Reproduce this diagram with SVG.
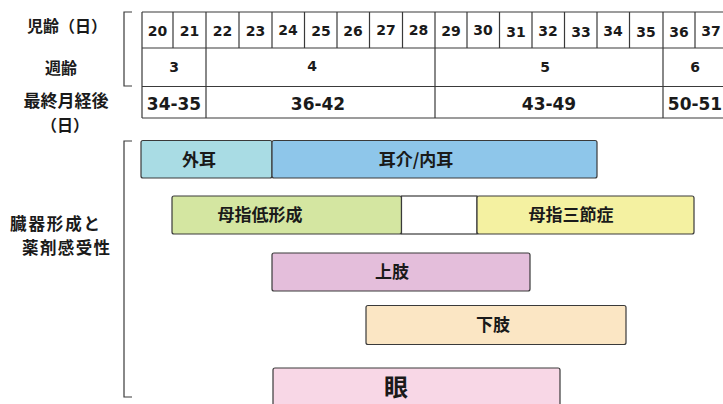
<svg xmlns="http://www.w3.org/2000/svg" width="723" height="404" viewBox="0 0 723 404">
<style>
.ln{stroke:#3a3a3a;stroke-width:1.2;fill:none}
.jp{font-family:"Noto Sans CJK JP","Noto Sans",sans-serif;font-weight:bold;fill:#1a1a1a}
.num{font-family:"DejaVu Sans",Verdana,sans-serif;fill:#1a1a1a;text-anchor:middle}
.bar{stroke:#3a3a3a;stroke-width:1.2}
</style>
<rect width="723" height="404" fill="#fff"/>
<g id="row-labels">
<text class="jp" x="67" y="32" font-size="16" text-anchor="middle">児齢（日）</text>
<text class="jp" x="61" y="74" font-size="16" text-anchor="middle">週齢</text>
<text class="jp" x="66" y="107" font-size="17" text-anchor="middle">最終月経後</text>
<text class="jp" x="65" y="131" font-size="16" text-anchor="middle">（日）</text>
<text class="jp" x="10" y="230" font-size="16.5" textLength="90">臓器形成と</text>
<text class="jp" x="22" y="254" font-size="16.5" textLength="88">薬剤感受性</text>
</g>
<g id="table">
<path class="ln" d="M132 12H124V86H132"/>
<path class="ln" d="M142 12H723M142 48H723M142 86.5H723M142 118H723M142 12V118"/>
<path class="ln" d="M173 12V48M206 12V118M239 12V48M272 12V48M304.5 12V48M337 12V48M369.5 12V48M402.5 12V48M435 12V118M467 12V48M499.5 12V48M532 12V48M564.5 12V48M597 12V48M629.5 12V48M663 12V118M695 12V48"/>
<g font-size="14" font-weight="bold">
<text class="num" x="157.5" y="36">20</text>
<text class="num" x="189.5" y="36">21</text>
<text class="num" x="222.5" y="36">22</text>
<text class="num" x="255.5" y="36">23</text>
<text class="num" x="288" y="35">24</text>
<text class="num" x="321" y="36">25</text>
<text class="num" x="353" y="36">26</text>
<text class="num" x="386" y="35">27</text>
<text class="num" x="418.5" y="35">28</text>
<text class="num" x="451" y="36">29</text>
<text class="num" x="483" y="35">30</text>
<text class="num" x="516" y="37">31</text>
<text class="num" x="548" y="36">32</text>
<text class="num" x="581" y="37">33</text>
<text class="num" x="613" y="36">34</text>
<text class="num" x="646" y="37">35</text>
<text class="num" x="679" y="37">36</text>
<text class="num" x="711" y="36">37</text>
</g>
<g font-size="14" font-weight="bold">
<text class="num" x="174" y="72">3</text>
<text class="num" x="312" y="71">4</text>
<text class="num" x="545" y="72">5</text>
<text class="num" x="695" y="72">6</text>
</g>
<g font-size="17" font-weight="bold">
<text class="num" x="174" y="110">34-35</text>
<text class="num" x="318" y="110">36-42</text>
<text class="num" x="549" y="110">43-49</text>
<text class="num" x="695" y="110">50-51</text>
</g>
</g>
<g id="bracket">
<path class="ln" d="M132 141H124V397H132"/>
</g>
<g id="gaiji">
<rect class="bar" x="141" y="140.5" width="131" height="37.5" rx="2" fill="#a9dce4"/>
<text class="jp" x="199" y="166" font-size="17" text-anchor="middle">外耳</text>
</g>
<g id="jikai">
<rect class="bar" x="272" y="140.5" width="325" height="37.5" rx="2" fill="#8ec6ea"/>
<text class="jp" x="416" y="166" font-size="17" text-anchor="middle">耳介/内耳</text>
</g>
<g id="boshi-tei">
<rect class="bar" x="172" y="196" width="229.5" height="38" rx="2" fill="#d4e6a1"/>
<text class="jp" x="260" y="221" font-size="17" text-anchor="middle">母指低形成</text>
</g>
<g id="blank">
<rect class="bar" x="401.5" y="196" width="75.5" height="38" fill="#fff"/>
</g>
<g id="boshi-san">
<rect class="bar" x="477" y="196" width="217" height="38" rx="2" fill="#f4f1a1"/>
<text class="jp" x="571" y="221" font-size="17" text-anchor="middle">母指三節症</text>
</g>
<g id="joshi">
<rect class="bar" x="272" y="253" width="258" height="38" rx="2" fill="#e4bedb"/>
<text class="jp" x="392" y="278" font-size="17" text-anchor="middle">上肢</text>
</g>
<g id="kashi">
<rect class="bar" x="366" y="305.5" width="260" height="39" rx="2" fill="#fbe6c4"/>
<text class="jp" x="493" y="331" font-size="17" text-anchor="middle">下肢</text>
</g>
<g id="me">
<rect class="bar" x="273" y="368" width="287" height="40" rx="2" fill="#f8d7e6"/>
<text class="jp" x="396" y="396" font-size="24" text-anchor="middle">眼</text>
</g>
</svg>
